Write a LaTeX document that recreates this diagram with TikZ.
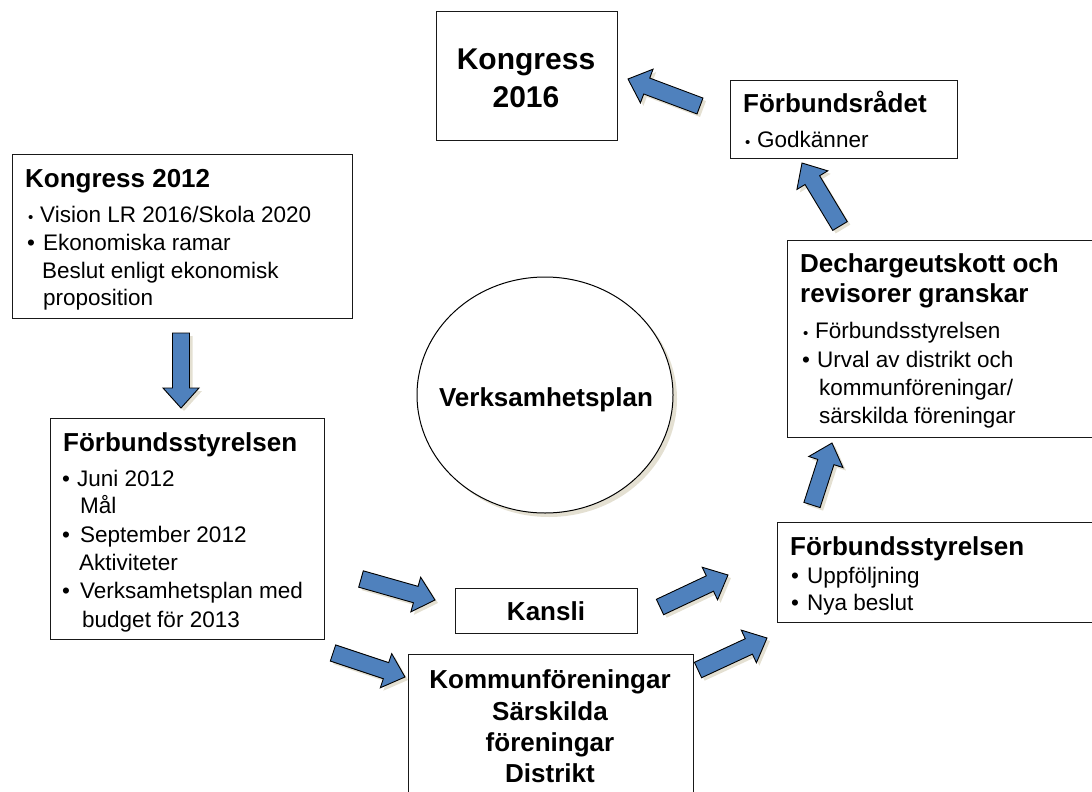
\documentclass[tikz,border=0pt]{standalone}
\usepackage{fontspec}
\setmainfont{Liberation Sans}
\usetikzlibrary{shapes.geometric,shadows,calc}
\definecolor{arrblue}{HTML}{4F81BD}
\definecolor{shcol}{HTML}{E4E0D2}
\newdimen\bax \newdimen\bay \newdimen\bbx \newdimen\bby
\newcommand{\blockarrow}[2]{%
  \pgfextractx{\bax}{\pgfpointanchor{#1}{center}}%
  \pgfextracty{\bay}{\pgfpointanchor{#1}{center}}%
  \pgfextractx{\bbx}{\pgfpointanchor{#2}{center}}%
  \pgfextracty{\bby}{\pgfpointanchor{#2}{center}}%
  \pgfmathsetmacro\barang{atan2(\bby-\bay,\bbx-\bax)}%
  \pgfmathsetmacro\barlen{veclen(\bbx-\bax,\bby-\bay)}%
  \fill[shcol,shift={(\bax+3pt,\bay-3pt)},rotate=\barang]
    (0pt,-8.5pt) -- ({\barlen pt-20pt},-8.5pt) -- ({\barlen pt-20pt},-18pt) -- ({\barlen pt},0pt)
    -- ({\barlen pt-20pt},18pt) -- ({\barlen pt-20pt},8.5pt) -- (0pt,8.5pt) -- cycle;
  \draw[arrowstyle,shift={(\bax,\bay)},rotate=\barang]
    (0pt,-8.5pt) -- ({\barlen pt-20pt},-8.5pt) -- ({\barlen pt-20pt},-18pt) -- ({\barlen pt},0pt)
    -- ({\barlen pt-20pt},18pt) -- ({\barlen pt-20pt},8.5pt) -- (0pt,8.5pt) -- cycle;
}
\begin{document}
\begin{tikzpicture}[x=1pt,y=-1pt,
  box/.style={draw=black!90, line width=1.3pt, inner sep=0pt, anchor=north west},
  tb/.style={inner sep=0pt, anchor=base west, font=\fontsize{26}{30}\selectfont\bfseries},
  tbc/.style={inner sep=0pt, anchor=base, font=\fontsize{26}{30}\selectfont\bfseries},
  tr/.style={inner sep=0pt, anchor=base west, font=\fontsize{22.5}{27}\selectfont},
  sbul/.style={inner sep=0pt, anchor=base west, font=\fontsize{15}{18}\selectfont},
  arrowstyle/.style={fill=arrblue, draw=black, line width=0.9pt, line join=miter}]
\useasboundingbox (0,0) rectangle (1092,792);
\clip (0,0) rectangle (1092,792);

% boxes
\node[box, minimum width=340pt, minimum height=164pt] (k12) at (12,154) {};
\node[box, minimum width=274pt, minimum height=221pt] (fsl) at (50,418) {};
\node[box, minimum width=182pt, minimum height=45pt] (kansli) at (455,588) {};
\node[box, minimum width=285pt, minimum height=170pt] (kommun) at (408,654) {};
\node[box, minimum width=340pt, minimum height=100pt] (fsr) at (777,522) {};
\node[box, minimum width=330pt, minimum height=197pt] (dech) at (787,240) {};
\node[box, minimum width=227pt, minimum height=78pt] (frad) at (730,80) {};
\node[box, minimum width=181pt, minimum height=129pt] (k16) at (436,11) {};
\node[ellipse, draw=black, line width=1pt, fill=white, minimum width=256pt, minimum height=236pt,
  drop shadow={shadow xshift=4pt, shadow yshift=-4pt, fill=shcol, opacity=1}] (vp) at (545,395) {};

% Kongress 2016
\node[inner sep=0pt, anchor=base, font=\fontsize{30}{36}\selectfont\bfseries] (k16a) at (526,70) {Kongress};
\node[inner sep=0pt, anchor=base, font=\fontsize{30}{36}\selectfont\bfseries] (k16b) at (526,107) {2016};

% Kongress 2012
\node[tb] (k12t) at (25,187) {Kongress 2012};
\node[sbul] (k12b1) at (28,222) {•};
\node[tr] (k12l1) at (40,222) {Vision LR 2016/Skola 2020};
\node[tr] (k12b2) at (27,250) {•};
\node[tr] (k12l2) at (43,250) {Ekonomiska ramar};
\node[tr] (k12l3) at (42,278) {Beslut enligt ekonomisk};
\node[tr] (k12l4) at (43,305) {proposition};

% Förbundsstyrelsen left
\node[tb] (fslt) at (63,451) {Förbundsstyrelsen};
\node[tr] (fslb1) at (62,486) {•};
\node[tr] (fsll1) at (77,486) {Juni 2012};
\node[tr] (fsll2) at (80,513) {Mål};
\node[tr] (fslb2) at (62,542) {•};
\node[tr] (fsll3) at (80,542) {September 2012};
\node[tr] (fsll4) at (79,570) {Aktiviteter};
\node[tr] (fslb3) at (62,598) {•};
\node[tr] (fsll5) at (80,598) {Verksamhetsplan med};
\node[tr] (fsll6) at (82,627) {budget för 2013};

% Kansli
\node[tbc] (kanslit) at (546,620) {Kansli};

% Kommunföreningar
\node[tbc] (kom1) at (550,688) {Kommunföreningar};
\node[tbc] (kom2) at (550,720) {Särskilda};
\node[tbc] (kom3) at (550,751) {föreningar};
\node[tbc] (kom4) at (550,782) {Distrikt};

% Verksamhetsplan
\node[tbc] (vpt) at (546,406) {Verksamhetsplan};

% Förbundsstyrelsen right
\node[tb] (fsrt) at (790,555) {Förbundsstyrelsen};
\node[tr] (fsrb1) at (791,583) {•};
\node[tr] (fsrl1) at (807,583) {Uppföljning};
\node[tr] (fsrb2) at (791,610) {•};
\node[tr] (fsrl2) at (807,610) {Nya beslut};

% Dechargeutskott
\node[tb] (decht1) at (800,272) {Dechargeutskott och};
\node[tb] (decht2) at (800,302) {revisorer granskar};
\node[sbul] (dechb1) at (803,338) {•};
\node[tr] (dechl1) at (815,338) {Förbundsstyrelsen};
\node[tr] (dechb2) at (802,367) {•};
\node[tr] (dechl2) at (817,367) {Urval av distrikt och};
\node[tr] (dechl3) at (819,395) {kommunföreningar/};
\node[tr] (dechl4) at (819,423) {särskilda föreningar};

% Förbundsrådet
\node[tb] (fradt) at (743,112) {Förbundsrådet};
\node[sbul] (fradb) at (745,147) {•};
\node[tr] (fradl) at (757,147) {Godkänner};

% arrow end points
\coordinate (a1s) at (181,333); \coordinate (a1e) at (181,408);
\coordinate (a2s) at (361,579); \coordinate (a2e) at (435,600);
\coordinate (a3s) at (333,653); \coordinate (a3e) at (405,677);
\coordinate (a4s) at (660,607); \coordinate (a4e) at (728,575);
\coordinate (a5s) at (698,670); \coordinate (a5e) at (767,638);
\coordinate (a6s) at (812,505); \coordinate (a6e) at (832,443);
\coordinate (a7s) at (840,226); \coordinate (a7e) at (802,163);
\coordinate (a8s) at (700,106); \coordinate (a8e) at (628,79);

\blockarrow{a1s}{a1e}
\blockarrow{a2s}{a2e}
\blockarrow{a3s}{a3e}
\blockarrow{a4s}{a4e}
\blockarrow{a5s}{a5e}
\blockarrow{a6s}{a6e}
\blockarrow{a7s}{a7e}
\blockarrow{a8s}{a8e}
\end{tikzpicture}
\end{document}
